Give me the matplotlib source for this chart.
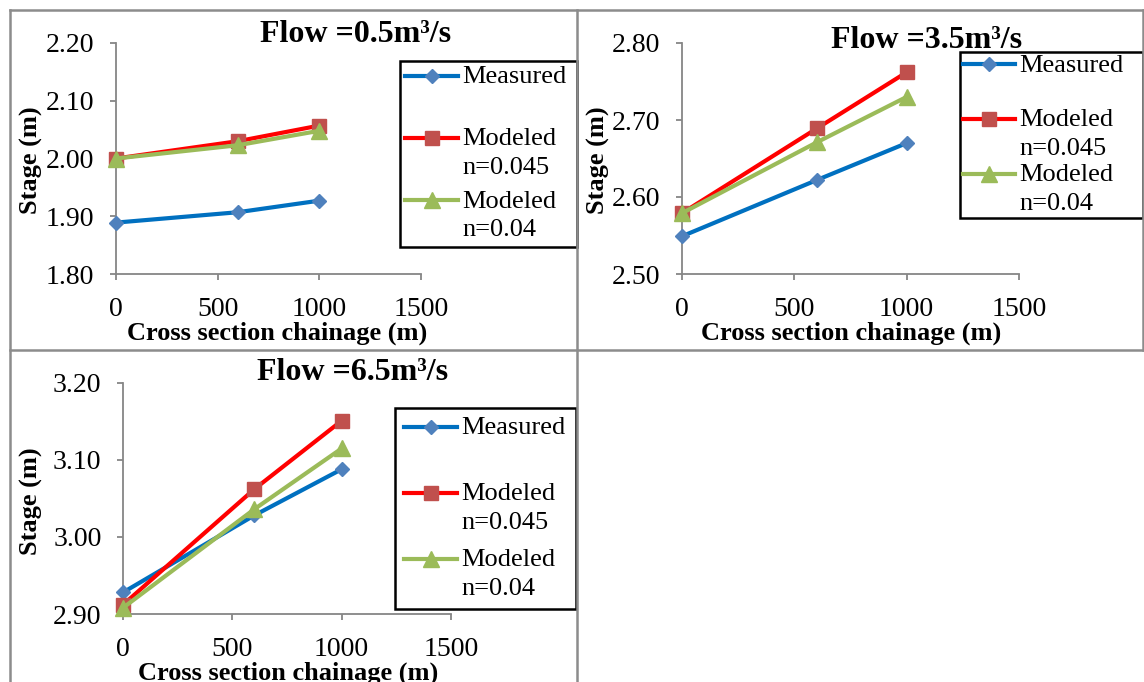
import numpy as np
import matplotlib.pyplot as plt
from matplotlib.lines import Line2D
from matplotlib.legend_handler import HandlerLine2D

plt.rcParams['font.family'] = ['Liberation Serif', 'DejaVu Serif']

W, H = 1144, 682

chainage = [0, 600, 1000]
series_names = ['Measured\n', 'Modeled\nn=0.045', 'Modeled\nn=0.04']

# stage (m) per flow
flow_05_measured = [1.889, 1.907, 1.927]
flow_05_n045     = [2.000, 2.030, 2.057]
flow_05_n04      = [2.000, 2.023, 2.048]

flow_35_measured = [2.549, 2.622, 2.670]
flow_35_n045     = [2.579, 2.689, 2.762]
flow_35_n04      = [2.579, 2.671, 2.730]

flow_65_measured = [2.928, 3.028, 3.088]
flow_65_n045     = [2.912, 3.062, 3.151]
flow_65_n04      = [2.908, 3.036, 3.115]

titles = ['Flow =0.5m³/s', 'Flow =3.5m³/s', 'Flow =6.5m³/s']

line_cols   = ['#0070C0', '#FF0000', '#9BBB59']
marker_cols = ['#4F81BD', '#C0504D', '#9BBB59']
markers     = ['D', 's', '^']
msizes      = [7.5, 10.5, 11]


class FirstLineHandler(HandlerLine2D):
  # put the legend handle beside the first line of a two-line label
  def __init__(self, dy, **kw):
    super().__init__(**kw)
    self.dy = dy

  def create_artists(self, legend, orig_handle, xdescent, ydescent, width, height, fontsize, trans):
    arts = super().create_artists(legend, orig_handle, xdescent, ydescent, width, height,
                                  fontsize, trans)
    for a in arts:
      a.set_ydata(np.asarray(a.get_ydata(), dtype=float) + self.dy)
    return arts


def px_axes(fig, l, r, t, b):
  return fig.add_axes([l / W, 1 - b / H, (r - l) / W, (b - t) / H])

fig = plt.figure(figsize=(W / 100, H / 100), dpi=100)

# table cell borders
grey = '#8C8C8C'
for (x0, y0, x1, y1) in [(10, 10, 1143, 10), (10, 10, 10, 682), (577, 10, 577, 682),
                         (10, 350, 1143, 350), (1143, 10, 1143, 350)]:
  fig.add_artist(Line2D([x0 / W, x1 / W], [1 - y0 / H, 1 - y1 / H], color=grey, lw=1.8,
                        transform=fig.transFigure))

panels = [
  dict(box=(116, 421, 43, 274), ylim=(1.80, 2.20), data=[flow_05_measured, flow_05_n045, flow_05_n04],
       title=(356, 35), leg=(400, 61, 177), lsp=0.43, bpad=0.2, ylab=(31, 160), xlab=(277, 333)),
  dict(box=(682, 1019, 43, 274), ylim=(2.50, 2.80), data=[flow_35_measured, flow_35_n045, flow_35_n04],
       title=(927, 40), leg=(960, 52, 183), lsp=0.15, bpad=0.1, ylab=(598, 160), xlab=(851, 333)),
  dict(box=(123, 451, 383, 614), ylim=(2.90, 3.20), data=[flow_65_measured, flow_65_n045, flow_65_n04],
       title=(353, 373), leg=(395, 408, 181), lsp=0.57, bpad=0.35, ylab=(31, 501), xlab=(288, 673)),
]

for i, p in enumerate(panels):
  ax = px_axes(fig, *p['box'])
  lines = []
  for j in range(3):
    ln, = ax.plot(chainage, p['data'][j], color=line_cols[j], lw=3, marker=markers[j],
                  ms=msizes[j], mfc=marker_cols[j], mec=marker_cols[j], label=series_names[j],
                  clip_on=False, zorder=3 + j)
    lines.append(ln)
  ax.set_xlim(0, 1500)
  ax.set_ylim(*p['ylim'])
  ax.set_xticks([0, 500, 1000, 1500])
  ax.set_yticks(np.arange(p['ylim'][0], p['ylim'][1] + 0.001, 0.1))
  ax.yaxis.set_major_formatter(plt.FormatStrFormatter('%.2f'))
  for s in ['top', 'right']:
    ax.spines[s].set_visible(False)
  for s in ['left', 'bottom']:
    ax.spines[s].set_color('#868686')
    ax.spines[s].set_linewidth(1.3)
  ax.tick_params(axis='both', direction='out', length=4.5, width=1.3, color='#868686',
                 labelsize=20)
  ax.tick_params(axis='y', pad=11)
  ax.tick_params(axis='x', pad=12)
  ax.patch.set_alpha(0)

  fig.text(p['title'][0] / W, 1 - p['title'][1] / H, titles[i], ha='center', va='center',
           fontsize=23, fontweight='bold')
  fig.text(p['ylab'][0] / W, 1 - p['ylab'][1] / H, 'Stage (m)', ha='center', va='center',
           rotation=90, fontsize=19, fontweight='bold')
  fig.text(p['xlab'][0] / W, 1 - p['xlab'][1] / H, 'Cross section chainage (m)', ha='center',
           va='center', fontsize=19, fontweight='bold')

  lx, ly, lw_ = p['leg']
  leg = ax.legend(handles=lines, loc='upper left',
                  bbox_to_anchor=(lx / W, 1 - ly / H - 0.01, lw_ / W, 0.01), mode='expand',
                  bbox_transform=fig.transFigure, fontsize=19, frameon=True, fancybox=False,
                  edgecolor='black', framealpha=1, handlelength=2.0, handletextpad=0.15,
                  labelspacing=p['lsp'], borderpad=p['bpad'], borderaxespad=0,
                  handler_map={ln: FirstLineHandler(10.8) for ln in lines})
  leg.get_frame().set_linewidth(1.8)
  for t in leg.get_texts():
    t.set_linespacing(1.4)

fig.savefig('out.png', dpi=100)
